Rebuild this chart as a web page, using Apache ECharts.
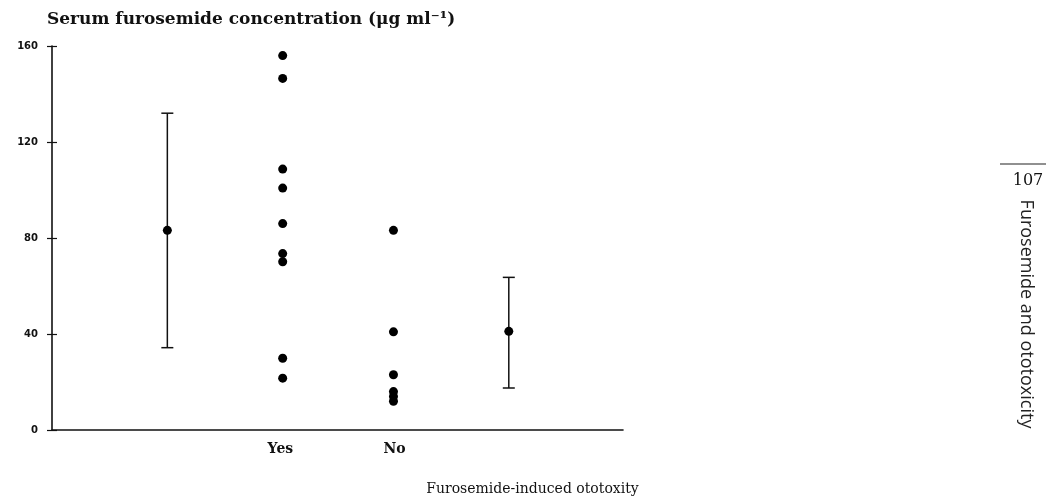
<!DOCTYPE html>
<html>
<head>
<meta charset="utf-8">
<script src="https://cdn.jsdelivr.net/npm/echarts@6/dist/echarts.min.js"></script>
<style>html,body{margin:0;padding:0;background:#fff}#c{width:1046px;height:501px}</style>
</head>
<body>
<div id="c"></div>
<script>
// Data
var categoryLabels = {2: 'Yes', 3: 'No'};
var yesX = 2.02;
var yesValues = [156, 146.5, 108.7, 100.8, 86, 73.5, 70.1, 29.9, 21.6];
var noX = 2.99;
var noValues = [83.2, 40.9, 23, 16, 14, 12];
// mean with error bars: [x, mean, low, high]
var summaryYes = [1.01, 83.2, 34.3, 132];
var summaryNo = [4.0, 41.1, 17.5, 63.6];
var yTicks = [0, 40, 80, 120, 160];

var chart = echarts.init(document.getElementById('c'));
var serif = '"DejaVu Serif", "Liberation Serif", serif';

function pts(x, vals) { return vals.map(function (v) { return [x, v]; }); }

chart.setOption({
  animation: false,
  backgroundColor: '#fff',
  grid: {left: 52, right: 423, top: 46, bottom: 68},
  title: {
    text: 'Serum furosemide concentration (μg ml⁻¹)',
    left: 42, top: 6,
    textStyle: {fontFamily: serif, fontSize: 17, fontWeight: 'bold', color: '#111'}
  },
  xAxis: {
    type: 'value', min: 0, max: 5, interval: 1,
    axisLine: {show: true, lineStyle: {color: '#111', width: 1.6}},
    axisTick: {show: false},
    splitLine: {show: false},
    axisLabel: {
      margin: 12,
      fontFamily: serif, fontSize: 14, fontWeight: 'bold', color: '#111',
      formatter: function (v) { return categoryLabels[v] || ''; }
    },
    name: 'Furosemide-induced ototoxity',
    nameLocation: 'middle', nameGap: 52,
    nameTextStyle: {fontFamily: serif, fontSize: 14, color: '#111', padding: [0, 0, 0, 390]}
  },
  yAxis: [{
    type: 'value', min: 0, max: 160, interval: 40,
    axisLine: {show: true, lineStyle: {color: '#111', width: 1.6}},
    axisTick: {show: true, length: 5, lineStyle: {color: '#111', width: 1.2}},
    splitLine: {show: false},
    axisLabel: {margin: 14, fontFamily: '"DejaVu Sans", sans-serif', fontSize: 10, fontWeight: 'bold', color: '#111',
      formatter: function (v) { return yTicks.indexOf(v) >= 0 ? String(v) : ''; }}
  }, {
    type: 'value', min: 0, max: 160, interval: 40, position: 'left',
    axisLine: {show: false},
    axisTick: {show: true, inside: true, length: 5, lineStyle: {color: '#111', width: 1.2}},
    axisLabel: {show: false},
    splitLine: {show: false}
  }],
  series: [{
    type: 'scatter', data: pts(yesX, yesValues), symbolSize: 9,
    itemStyle: {color: '#000', opacity: 1}
  }, {
    type: 'scatter', data: pts(noX, noValues), symbolSize: 9,
    itemStyle: {color: '#000', opacity: 1}
  }, {
    type: 'custom',
    data: [summaryYes, summaryNo],
    renderItem: function (params, api) {
      var x = api.value(0);
      var m = api.coord([x, api.value(1)]);
      var lo = api.coord([x, api.value(2)]);
      var hi = api.coord([x, api.value(3)]);
      var w = 6;
      var st = {stroke: '#111', lineWidth: 1.5};
      return {type: 'group', children: [
        {type: 'line', shape: {x1: lo[0], y1: lo[1], x2: hi[0], y2: hi[1]}, style: st},
        {type: 'line', shape: {x1: lo[0] - w, y1: lo[1], x2: lo[0] + w, y2: lo[1]}, style: st},
        {type: 'line', shape: {x1: hi[0] - w, y1: hi[1], x2: hi[0] + w, y2: hi[1]}, style: st},
        {type: 'circle', shape: {cx: m[0], cy: m[1], r: 4.5}, style: {fill: '#000'}}
      ]};
    }
  }],
  graphic: [
    {type: 'line', shape: {x1: 1000, y1: 164, x2: 1046, y2: 164}, style: {stroke: '#222', lineWidth: 1.2}},
    {type: 'text', x: 1028, y: 181, style: {text: '107', fontFamily: serif, fontSize: 16, fill: '#111', align: 'center', verticalAlign: 'middle'}},
    {type: 'text', x: 1026, y: 314, rotation: -Math.PI / 2,
     style: {text: 'Furosemide and ototoxicity', fontFamily: '"Open Sans", sans-serif', fontSize: 18, fill: '#222', align: 'center', verticalAlign: 'middle'}}
  ]
});
</script>
</body>
</html>
